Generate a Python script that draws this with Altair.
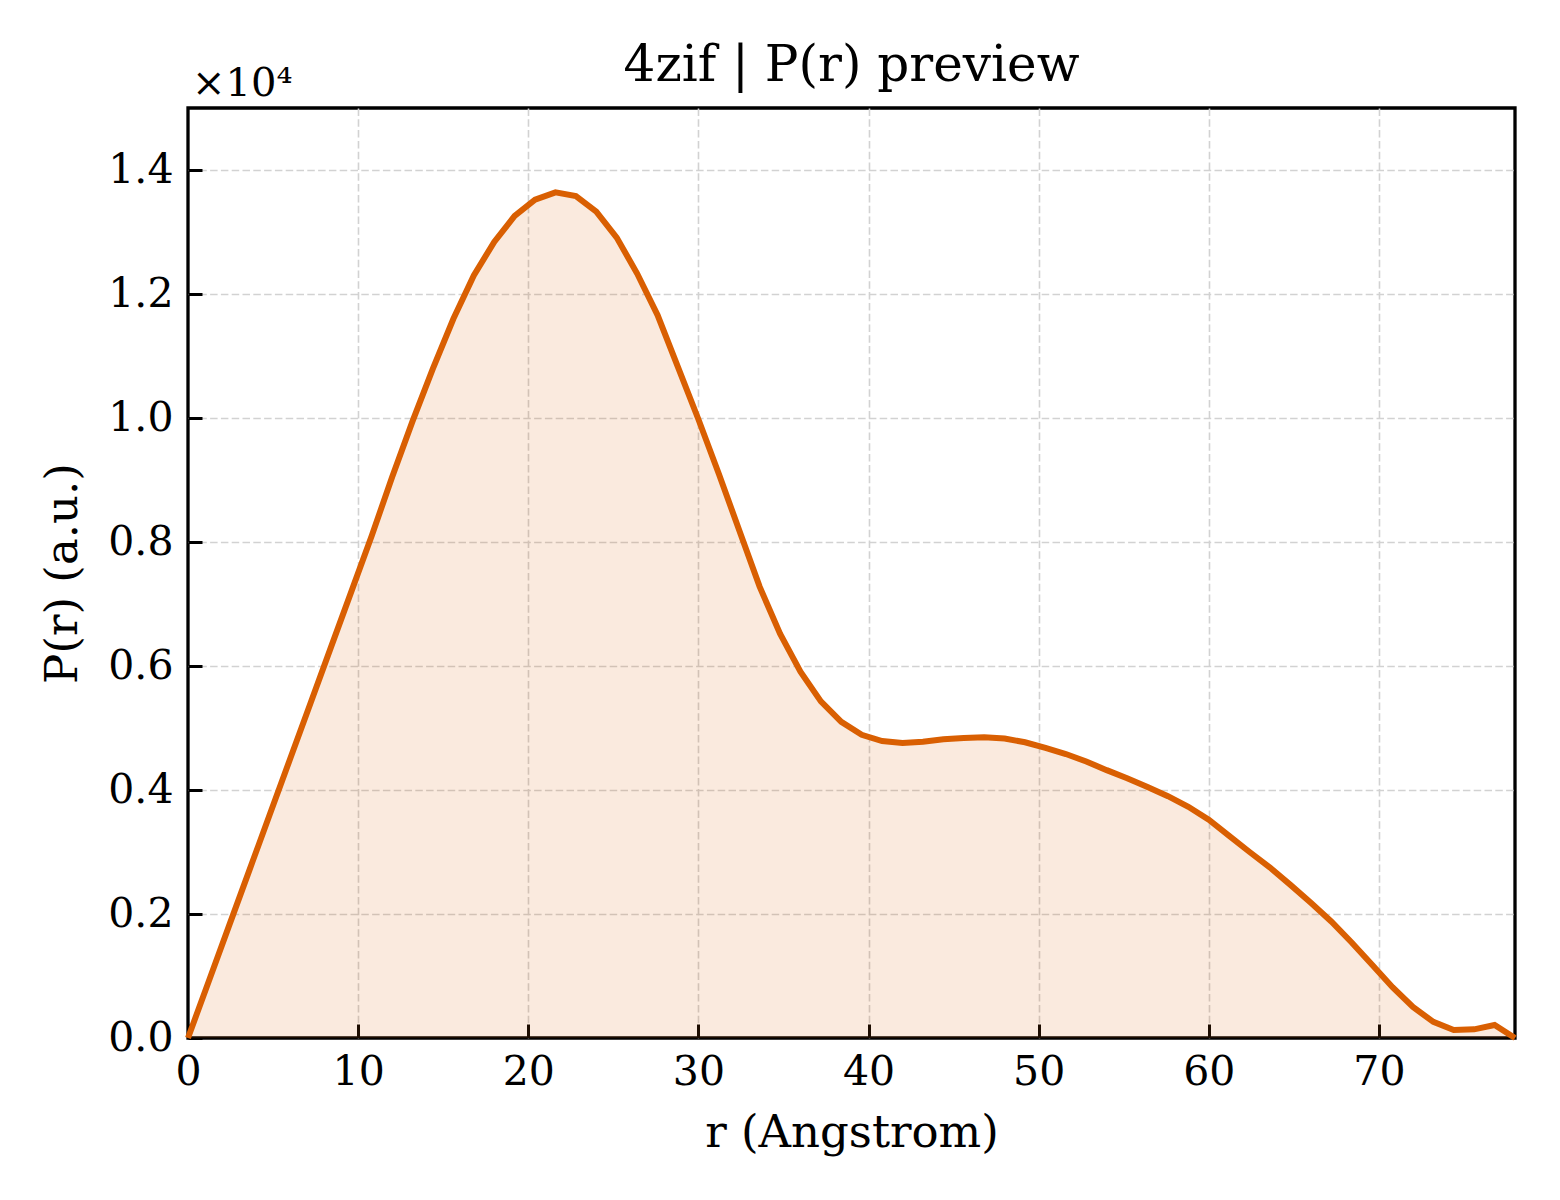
import altair as alt
import pandas as pd

# P(r) curve
r_vals = [0.0, 1.2, 2.4, 3.6, 4.8, 6.0, 7.2, 8.4, 9.6, 10.8,
          12.0, 13.2, 14.4, 15.6, 16.8, 18.0, 19.2, 20.4, 21.6, 22.8,
          24.0, 25.2, 26.4, 27.6, 28.8, 30.0, 31.2, 32.4, 33.6, 34.8,
          36.0, 37.2, 38.4, 39.6, 40.8, 42.0, 43.2, 44.4, 45.6, 46.8,
          48.0, 49.2, 50.4, 51.6, 52.8, 54.0, 55.2, 56.4, 57.6, 58.8,
          60.0, 61.2, 62.4, 63.6, 64.8, 66.0, 67.2, 68.4, 69.6, 70.8,
          72.0, 73.2, 74.4, 75.6, 76.8, 78.0]
p_vals = [0, 900, 1800, 2700, 3600, 4500, 5400, 6300, 7200, 8100,
          9050, 9950, 10800, 11600, 12300, 12840, 13260, 13520, 13640, 13580,
          13330, 12910, 12330, 11660, 10820, 9980, 9100, 8190, 7280, 6520,
          5910, 5430, 5100, 4890, 4790, 4760, 4780, 4820, 4840, 4850,
          4830, 4770, 4680, 4580, 4460, 4320, 4190, 4050, 3900, 3730,
          3520, 3260, 3000, 2750, 2470, 2180, 1880, 1540, 1180, 820,
          500, 260, 130, 140, 210, 0]

x_ticks = [0, 10, 20, 30, 40, 50, 60, 70]
y_ticks = [0, 2000, 4000, 6000, 8000, 10000, 12000, 14000]

df = pd.DataFrame({'r': r_vals, 'P': p_vals})

W = 1327
H = 930
FONT = 'DejaVu Serif'
ORANGE = '#d95f02'

x_scale = alt.Scale(domain=[0, 78], nice=False, zero=False)
y_scale = alt.Scale(domain=[0, 15000], nice=False)

# inward ticks: negative tick size passed as an expression
inward = alt.ExprRef('-14')
# hide the grid line that would sit on top of the spine at 0
grid_op = {'condition': {'test': 'datum.value === 0', 'value': 0}, 'value': 1}

x_axis = alt.Axis(values=x_ticks, domain=False, labelFlush=False,
                  ticks=True, tickSize=inward, tickWidth=3, tickColor='black',
                  grid=True, gridDash=[7.5, 3.3], gridColor='#d2d2d2', gridWidth=1.6,
                  gridOpacity=grid_op,
                  labelFont=FONT, labelFontSize=41, labelColor='black', labelPadding=28,
                  title='r (Angstrom)', titleFont=FONT, titleFontSize=45,
                  titleFontWeight='normal', titleColor='black', titlePadding=18)
y_axis = alt.Axis(values=y_ticks, domain=False, labelFlush=False,
                  ticks=True, tickSize=inward, tickWidth=3, tickColor='black',
                  grid=True, gridDash=[7.5, 3.3], gridColor='#d2d2d2', gridWidth=1.6,
                  gridOpacity=grid_op,
                  labelExpr="format(datum.value / 10000, '.1f')",
                  labelFont=FONT, labelFontSize=41, labelColor='black', labelPadding=29,
                  title='P(r) (a.u.)', titleFont=FONT, titleFontSize=45,
                  titleFontWeight='normal', titleColor='black', titlePadding=22)

area = alt.Chart(df).mark_area(color=ORANGE, opacity=0.13).encode(
    x=alt.X('r:Q', scale=x_scale, axis=x_axis),
    y=alt.Y('P:Q', scale=y_scale, axis=y_axis),
)

line = alt.Chart(df).mark_line(color=ORANGE, strokeWidth=6).encode(
    x=alt.X('r:Q', scale=x_scale, axis=x_axis),
    y=alt.Y('P:Q', scale=y_scale, axis=y_axis),
)

mult = alt.Chart(pd.DataFrame({'t': ['×10⁴'], 'r': [0], 'P': [15000]})).mark_text(
    font=FONT, fontSize=40, align='left', baseline='alphabetic', dx=4, dy=-12, color='black'
).encode(
    x=alt.X('r:Q', scale=x_scale, axis=x_axis),
    y=alt.Y('P:Q', scale=y_scale, axis=y_axis),
    text='t:N',
)

chart = alt.layer(area, line, mult).properties(
    width=W,
    height=H,
    background='white',
    title=alt.TitleParams('4zif | P(r) preview', font=FONT, fontSize=50,
                          fontWeight='normal', color='black', anchor='middle',
                          frame='group', baseline='alphabetic', offset=-67),
    autosize=alt.AutoSizeParams(type='none'),
    padding={'left': 180, 'top': 100, 'right': 30, 'bottom': 150},
).configure_view(
    stroke='black', strokeWidth=3.3
)

chart.save("out.html", embed_options={"renderer": "svg", "actions": False})
